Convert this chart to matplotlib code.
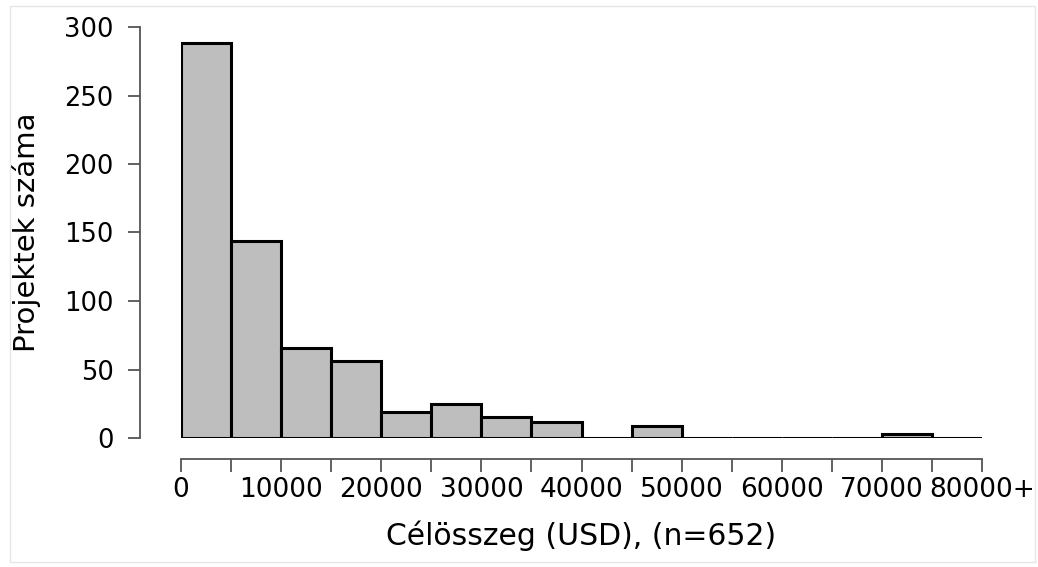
import numpy as np
import matplotlib
matplotlib.use("Agg")
from matplotlib import pyplot as plt
from matplotlib.patches import Rectangle

# histogram of funding goals, 5000 USD bins, last label is open-ended
bin_edges = np.arange(0, 85000, 5000)
counts = [288, 144, 66, 56, 19, 25, 15, 12, 0, 9, 0, 0, 0, 0, 3, 0]
x_ticks = np.arange(0, 85000, 5000)
x_labels = ['0', '', '10000', '', '20000', '', '30000', '', '40000', '',
            '50000', '', '60000', '', '70000', '', '80000+']
y_ticks = [0, 50, 100, 150, 200, 250, 300]

plt.rcParams['font.family'] = ['DejaVu Sans']

fig = plt.figure(figsize=(10.38, 5.67), dpi=100)
ax = fig.add_axes([181 / 1038, 129 / 567, 801 / 1038, 411 / 567])

ax.bar(bin_edges[:-1], counts, width=5000, align='edge',
       color='#bebebe', edgecolor='black', linewidth=2.2)

ax.set_xlim(0, 80000)
ax.set_ylim(0, 300)

for side in ['top', 'right']:
    ax.spines[side].set_visible(False)
ax.spines['left'].set_position(('outward', 29.5))
ax.spines['bottom'].set_position(('outward', 15))
ax.spines['left'].set_bounds(0, 300)
ax.spines['bottom'].set_bounds(0, 80000)
for side in ['left', 'bottom']:
    ax.spines[side].set_color('#555555')
    ax.spines[side].set_linewidth(1.3)

ax.set_yticks(y_ticks)
ax.set_xticks(x_ticks)
ax.set_xticklabels(x_labels)
ax.tick_params(axis='both', length=9, width=1.3, color='#555555',
               labelsize=18.5, labelcolor='black')
ax.tick_params(axis='y', pad=10)
ax.tick_params(axis='x', labelsize=19, pad=4)

ax.set_ylabel('Projektek száma', fontsize=21, labelpad=17)
ax.set_xlabel('Célösszeg (USD), (n=652)', fontsize=21.5, labelpad=13)

# thin frame around the whole figure
fig.patches.append(Rectangle((10 / 1038, 5 / 567), 1025 / 1038, 556 / 567,
                             transform=fig.transFigure, fill=False,
                             edgecolor='#e6e6e6', linewidth=1, zorder=0))

plt.savefig('out.png', dpi=100)
plt.close()
